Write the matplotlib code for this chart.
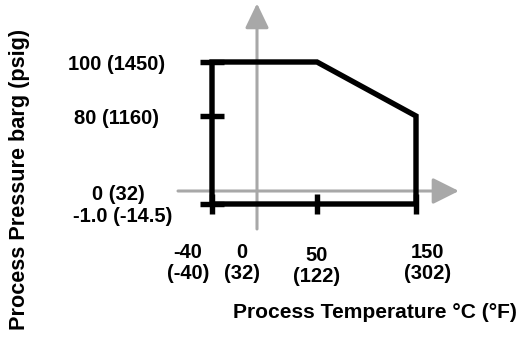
import numpy as np
import matplotlib
matplotlib.use("Agg")
import matplotlib.pyplot as plt

# Operating envelope: process temperature (°C) vs. process pressure (barg)
temp_c = [-40, -40, 50, 150, 150, -40]
press_barg = [-1.0, 100, 100, 80, -1.0, -1.0]

# Tick marks drawn on the envelope edges
edge_ticks_temp = [-40, 50, 150]
edge_ticks_press = [100, 80, -1.0]

# Axis labels (metric with imperial in parentheses)
x_tick_values = [-40, 0, 50, 150]
x_tick_labels = ["-40\n(-40)", "0\n(32)", "50\n(122)", "150\n(302)"]
y_tick_values = [100, 80, 0, -1.0]
y_tick_labels = ["100 (1450)", "80 (1160)", "0 (32)", "-1.0 (-14.5)"]

# ---- layout -------------------------------------------------------------
W, H = 522, 337
FONT = "Liberation Sans"
BLACK_LW = 3.9
GRAY = "#a8a8a8"

# Schematic (piecewise-linear) scales: value knots -> figure pixels
X_SRC, X_DST = [-40, 0, 50, 150], [212, 257, 317, 416]
Y_SRC, Y_DST = [-1, 0, 80, 100], [133, 146, 221, 275]

# label offsets in pixels (dx, dy) relative to their anchor value
x_label_off = [(-24, -59), (-15, -59), (0, -62), (12, -59)]
y_label_off = [(-95, -3), (-95, -2), (-94, -4), (-89, -13)]


def piecewise(v, src, dst):
    v = np.asarray(v, dtype=float)
    out = np.interp(v, src, dst)
    s0 = (dst[1] - dst[0]) / (src[1] - src[0])
    s1 = (dst[-1] - dst[-2]) / (src[-1] - src[-2])
    out = np.where(v < src[0], dst[0] + (v - src[0]) * s0, out)
    out = np.where(v > src[-1], dst[-1] + (v - src[-1]) * s1, out)
    return out


fx = lambda v: piecewise(v, X_SRC, X_DST)
ix = lambda v: piecewise(v, X_DST, X_SRC)
fy = lambda v: piecewise(v, Y_SRC, Y_DST)
iy = lambda v: piecewise(v, Y_DST, Y_SRC)

fig = plt.figure(figsize=(W / 100, H / 100), dpi=100)
ax = fig.add_axes([0, 0, 1, 1])
ax.set_xscale("function", functions=(fx, ix))
ax.set_yscale("function", functions=(fy, iy))
ax.set_xlim(float(ix(0)), float(ix(W)))
ax.set_ylim(float(iy(0)), float(iy(H)))
ax.axis("off")

# Gray reference axes with arrow heads (through 0 °C and 0 barg)
arrow_v = dict(arrowstyle="-|>,head_length=15,head_width=7.2", mutation_scale=1,
               color=GRAY, lw=2.2, shrinkA=0, shrinkB=0)
arrow_h = dict(arrowstyle="-|>,head_length=16,head_width=8", mutation_scale=1,
               color=GRAY, lw=2.2, shrinkA=0, shrinkB=0)
ax.annotate("", xy=(0, 0.99), xytext=(0, 0.3205),
            xycoords=ax.get_xaxis_transform(), textcoords=ax.get_xaxis_transform(),
            arrowprops=arrow_v, zorder=1)
ax.annotate("", xy=(0.879, 0), xytext=(0.341, 0),
            xycoords=ax.get_yaxis_transform(), textcoords=ax.get_yaxis_transform(),
            arrowprops=arrow_h, zorder=1)

# Envelope outline
ax.plot(temp_c, press_barg, color="black", lw=BLACK_LW,
        solid_joinstyle="miter", solid_capstyle="butt", zorder=3)
ax.plot([temp_c[0]] * len(edge_ticks_press), edge_ticks_press, ls="none",
        marker="_", ms=17, mew=BLACK_LW, color="black", zorder=3)
ax.plot(edge_ticks_temp, [press_barg[0]] * len(edge_ticks_temp), ls="none",
        marker="|", ms=14.5, mew=BLACK_LW, color="black", zorder=3)

txt = dict(fontfamily=FONT, fontweight="bold", fontsize=14.5, color="black")

for v, lab, (dx, dy) in zip(x_tick_values, x_tick_labels, x_label_off):
    ax.annotate(lab, xy=(v, press_barg[0]), xytext=(dx, dy),
                textcoords="offset pixels", ha="center", va="center",
                multialignment="center", linespacing=1.1, **txt)

for v, lab, (dx, dy) in zip(y_tick_values, y_tick_labels, y_label_off):
    ax.annotate(lab, xy=(temp_c[0], v), xytext=(dx, dy),
                textcoords="offset pixels", ha="center", va="center", **txt)

fig.text(375 / W, 1 - 313 / H, "Process Temperature °C (°F)", ha="center",
         va="center", fontfamily=FONT, fontweight="bold", fontsize=15.1)
fig.text(20 / W, 1 - 179 / H, "Process Pressure barg (psig)", ha="center",
         va="center", rotation=90, fontfamily=FONT, fontweight="bold",
         fontsize=15.6)

fig.savefig("out.png", dpi=100)
